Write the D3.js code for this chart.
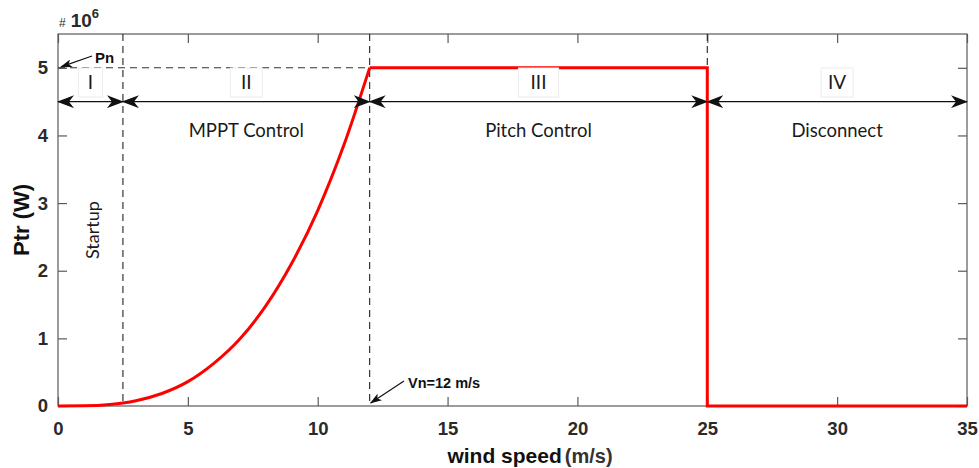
<!DOCTYPE html>
<html>
<head>
<meta charset="utf-8">
<script src="https://cdn.jsdelivr.net/npm/d3@7"></script>
<style>
  html, body { margin: 0; padding: 0; background: #fff; }
  svg { display: block; }
</style>
</head>
<body>
<svg id="chart" width="979" height="468"></svg>
<script>
// Wind turbine power curve (values in MW, scaled by 10^6 on the axis)
const speedMPPT = [0, 1, 2, 2.5, 3, 4, 5, 6, 7, 8, 9, 10, 11, 12];
const powerMPPT = [0, 0.003, 0.023, 0.045, 0.078, 0.185, 0.36, 0.63, 0.99, 1.48, 2.11, 2.89, 3.85, 5.0];
const speedRest = [12, 25, 25, 35];
const powerRest = [5.0, 5.0, 0, 0];

const xTicks = [0, 5, 10, 15, 20, 25, 30, 35];
const yTicks = [0, 1, 2, 3, 4, 5];

// Operating regions along the wind-speed axis
const regionBounds = [0, 2.5, 12, 25, 35];
const regionNumerals = ["I", "II", "III", "IV"];
const regionNames = ["", "MPPT Control", "Pitch Control", "Disconnect"];
const ratedPower = 5;
const ratedSpeed = 12;
const arrowLevel = 4.5;

const W = 979, H = 468;
const m = { left: 58, right: 12, top: 34, bottom: 62 };
const svg = d3.select("#chart");

const x = d3.scaleLinear().domain([0, 35]).range([m.left, W - m.right]);
const y = d3.scaleLinear().domain([0, 5.5]).range([H - m.bottom, m.top]);

const axisColor = "#5a5a5a";
const tickFont = "Liberation Sans, Arial, sans-serif";
const noteFont = "Lato, 'Open Sans', sans-serif";

// Arrow markers
const defs = svg.append("defs");
defs.append("marker")
  .attr("id", "head")
  .attr("viewBox", "0 0 17 13")
  .attr("refX", 16).attr("refY", 6.5)
  .attr("markerWidth", 17).attr("markerHeight", 13)
  .attr("markerUnits", "userSpaceOnUse")
  .attr("orient", "auto-start-reverse")
  .append("path")
  .attr("d", "M0,0 L17,6.5 L0,13 L5,6.5 Z")
  .attr("fill", "#111");
defs.append("marker")
  .attr("id", "small")
  .attr("viewBox", "0 0 12 8")
  .attr("refX", 11).attr("refY", 4)
  .attr("markerWidth", 12).attr("markerHeight", 8)
  .attr("markerUnits", "userSpaceOnUse")
  .attr("orient", "auto")
  .append("path")
  .attr("d", "M0,0 L12,4 L0,8 L3,4 Z")
  .attr("fill", "#111");

// Box frame
svg.append("rect")
  .attr("x", x(0)).attr("y", y(5.5))
  .attr("width", x(35) - x(0)).attr("height", y(0) - y(5.5))
  .attr("fill", "none").attr("stroke", axisColor).attr("stroke-width", 1.2);

// Bottom axis with inward ticks
const gx = svg.append("g").attr("transform", `translate(0,${y(0)})`)
  .call(d3.axisBottom(x).tickValues(xTicks).tickSize(-9).tickPadding(16).tickFormat(d3.format("d")));
gx.select(".domain").remove();
gx.selectAll("line").attr("stroke", axisColor).attr("stroke-width", 1.2);
gx.selectAll("text").attr("font-family", tickFont).attr("font-size", 18.5)
  .attr("font-weight", "bold").attr("fill", "#2a2a2a");

// Top ticks
svg.append("g").attr("transform", `translate(0,${y(5.5)})`)
  .call(d3.axisTop(x).tickValues(xTicks).tickSize(-9).tickFormat(""))
  .call(g => g.select(".domain").remove())
  .selectAll("line").attr("stroke", axisColor).attr("stroke-width", 1.2);

// Left axis
const gy = svg.append("g").attr("transform", `translate(${x(0)},0)`)
  .call(d3.axisLeft(y).tickValues(yTicks).tickSize(-9).tickPadding(10).tickFormat(d3.format("d")));
gy.select(".domain").remove();
gy.selectAll("line").attr("stroke", axisColor).attr("stroke-width", 1.2);
gy.selectAll("text").attr("font-family", tickFont).attr("font-size", 18.5)
  .attr("font-weight", "bold").attr("fill", "#2a2a2a");

// Right ticks
svg.append("g").attr("transform", `translate(${x(35)},0)`)
  .call(d3.axisRight(y).tickValues(yTicks).tickSize(-9).tickFormat(""))
  .call(g => g.select(".domain").remove())
  .selectAll("line").attr("stroke", axisColor).attr("stroke-width", 1.2);

// Exponent label
const ex = svg.append("text").attr("x", x(0) + 1).attr("y", 27)
  .attr("font-family", tickFont).attr("fill", "#2a2a2a");
ex.append("tspan").attr("font-size", 12).text("#");
ex.append("tspan").attr("dx", 5).attr("font-size", 19).attr("font-weight", "bold").text("10");
ex.append("tspan").attr("dy", -9).attr("font-size", 13).attr("font-weight", "bold").text("6");

// Axis titles
svg.append("text")
  .attr("transform", `translate(29,${(y(0) + y(5.5)) / 2}) rotate(-90)`)
  .attr("text-anchor", "middle")
  .attr("font-family", tickFont).attr("font-size", 22).attr("font-weight", "bold")
  .attr("fill", "#111").text("Ptr (W)");
const xt = svg.append("text")
  .attr("x", 530).attr("y", 463).attr("text-anchor", "middle")
  .attr("font-family", tickFont).attr("fill", "#111").attr("font-weight", "bold");
xt.append("tspan").attr("font-size", 21).text("wind speed");
xt.append("tspan").attr("dx", 3).attr("font-size", 20).attr("fill", "#333").text("(m/s)");

// Region boundaries (dashed verticals)
svg.append("g").selectAll("line")
  .data(regionBounds.slice(1, 4))
  .join("line")
  .attr("x1", d => x(d)).attr("x2", d => x(d))
  .attr("y1", y(5.5)).attr("y2", y(0))
  .attr("stroke", "#222").attr("stroke-width", 1.1)
  .attr("stroke-dasharray", "7,5");

// Rated power dashed line
svg.append("line")
  .attr("x1", x(0)).attr("x2", x(ratedSpeed))
  .attr("y1", y(ratedPower)).attr("y2", y(ratedPower))
  .attr("stroke", "#333").attr("stroke-width", 1.1)
  .attr("stroke-dasharray", "7,5");

// Power curve: smooth cubic rise, then rated plateau and cut-out
const red = "#ff0000";
svg.append("path")
  .datum(d3.zip(speedMPPT, powerMPPT))
  .attr("d", d3.line().x(d => x(d[0])).y(d => y(d[1])).curve(d3.curveMonotoneX))
  .attr("fill", "none").attr("stroke", red).attr("stroke-width", 3);
svg.append("path")
  .datum(d3.zip(speedRest, powerRest))
  .attr("d", d3.line().x(d => x(d[0])).y(d => y(d[1])))
  .attr("fill", "none").attr("stroke", red).attr("stroke-width", 3)
  .attr("stroke-linejoin", "miter");

// Double-headed region arrows
const regions = d3.range(4).map(i => ({ a: regionBounds[i], b: regionBounds[i + 1], num: regionNumerals[i], name: regionNames[i] }));
svg.append("g").selectAll("line")
  .data(regions)
  .join("line")
  .attr("x1", d => x(d.a)).attr("x2", d => x(d.b))
  .attr("y1", y(arrowLevel)).attr("y2", y(arrowLevel))
  .attr("stroke", "#111").attr("stroke-width", 1.3)
  .attr("marker-start", "url(#head)").attr("marker-end", "url(#head)");

// Region numerals in light boxes
const numG = svg.append("g").selectAll("g")
  .data(regions)
  .join("g")
  .attr("transform", d => `translate(${(x(d.a) + x(d.b)) / 2},82)`);
numG.append("rect")
  .attr("x", d => -(d.num.length * 4 + 8)).attr("y", -14)
  .attr("width", d => d.num.length * 8 + 16).attr("height", 29)
  .attr("fill", "#fff").attr("stroke", "#ececec").attr("stroke-width", 1);
numG.append("text")
  .attr("text-anchor", "middle").attr("dy", "0.35em")
  .attr("font-family", noteFont).attr("font-size", 19).attr("fill", "#1a1a1a")
  .text(d => d.num);

// Region names
svg.append("g").selectAll("text")
  .data(regions.filter(d => d.name))
  .join("text")
  .attr("x", d => (x(d.a) + x(d.b)) / 2).attr("y", 137)
  .attr("text-anchor", "middle")
  .attr("font-family", noteFont).attr("font-size", 18.5).attr("fill", "#1a1a1a")
  .text(d => d.name);

svg.append("text")
  .attr("transform", `translate(99,${y(2.6)}) rotate(-90)`)
  .attr("text-anchor", "middle")
  .attr("font-family", noteFont).attr("font-size", 18).attr("fill", "#1a1a1a")
  .text("Startup");

// Rated power annotation
svg.append("line")
  .attr("x1", 92).attr("y1", 56).attr("x2", x(0) + 3).attr("y2", y(ratedPower) - 1)
  .attr("stroke", "#111").attr("stroke-width", 1.2)
  .attr("marker-end", "url(#small)");
svg.append("text").attr("x", 95).attr("y", 63)
  .attr("font-family", tickFont).attr("font-size", 15).attr("font-weight", "bold")
  .attr("fill", "#111").text("Pn");

// Rated speed annotation
svg.append("line")
  .attr("x1", 404).attr("y1", 381).attr("x2", x(ratedSpeed) + 1).attr("y2", y(0) - 3)
  .attr("stroke", "#111").attr("stroke-width", 1.2)
  .attr("marker-end", "url(#small)");
svg.append("text").attr("x", 408).attr("y", 388)
  .attr("font-family", tickFont).attr("font-size", 14.5).attr("font-weight", "bold")
  .attr("fill", "#111").text("Vn=12 m/s");
</script>
</body>
</html>
